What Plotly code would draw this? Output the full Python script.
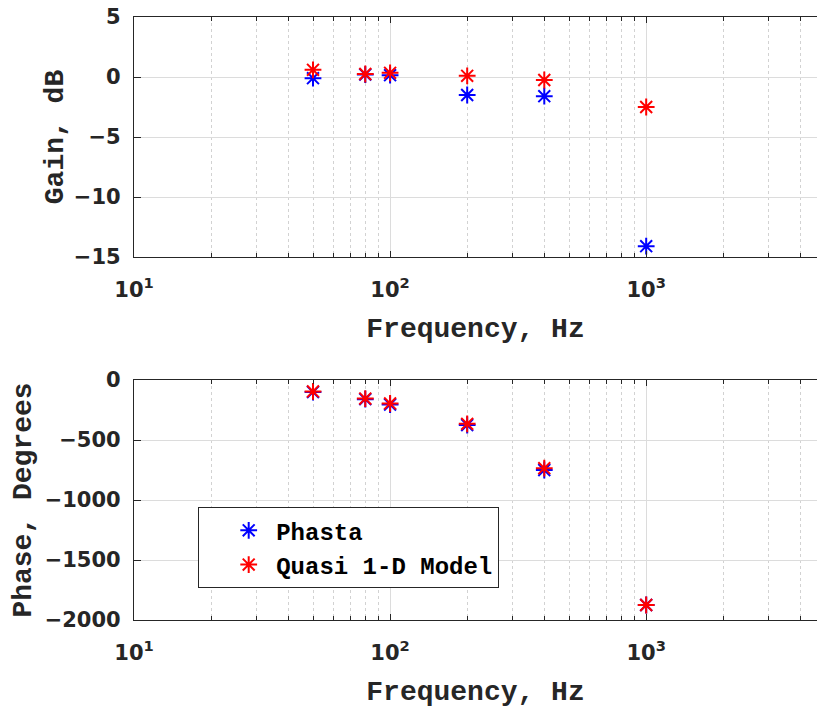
import plotly.graph_objects as go

# Frequency response: measured (Phasta) vs. quasi 1-D model
freq = [50, 80, 100, 200, 400, 1000]
gain_phasta = [-0.1, 0.2, 0.15, -1.5, -1.6, -14.1]
gain_model = [0.6, 0.25, 0.35, 0.1, -0.25, -2.5]
phase_phasta = [-100, -160, -205, -375, -750, -1875]
phase_model = [-95, -155, -195, -365, -735, -1875]

x_major = [10, 100, 1000]
x_major_text = ["10<sup>1</sup>", "10<sup>2</sup>", "10<sup>3</sup>"]
x_minor = [m * d for d in (10, 100, 1000) for m in range(2, 10) if m * d < 5000]

gain_ticks = [5, 0, -5, -10, -15]
phase_ticks = [0, -500, -1000, -1500, -2000]

BLUE = "#0000ff"
RED = "#ff0000"
AX = "#262626"
TITLE_FONT = dict(family="Liberation Mono", size=28, color=AX, weight="bold")
TICK_FONT = dict(family="DejaVu Sans", size=21, color=AX, weight="bold")

fig = go.Figure()

def add_series(x, y, color, name, axis, show):
    fig.add_trace(go.Scatter(
        x=x, y=y, mode="markers", name=name, showlegend=show,
        xaxis="x" if axis == 1 else "x2", yaxis="y" if axis == 1 else "y2",
        marker=dict(symbol="asterisk-open", size=14, color=color,
                    line=dict(color=color, width=2)),
    ))

add_series(freq, gain_phasta, BLUE, "Phasta", 1, False)
add_series(freq, gain_model, RED, "Quasi 1-D Model", 1, False)
add_series(freq, phase_phasta, BLUE, "Phasta", 2, True)
add_series(freq, phase_model, RED, "Quasi 1-D Model", 2, True)

def xaxis(anchor):
    return dict(
        type="log", range=[1, 3.667], anchor=anchor,
        tickvals=x_major, ticktext=x_major_text, tickfont=TICK_FONT,
        ticks="inside", ticklen=6, tickcolor=AX, ticklabelstandoff=14,
        showline=True, linecolor=AX, linewidth=1.2, mirror="allticks",
        showgrid=True, gridcolor="#dcdcdc", gridwidth=1, zeroline=False,
        minor=dict(tickvals=x_minor, ticks="inside", ticklen=4, tickcolor=AX,
                   showgrid=True, gridcolor="#d2d2d2", griddash="dot", gridwidth=1),
        title=dict(text="Frequency, Hz", font=TITLE_FONT, standoff=16),
    )

def yaxis(anchor, rng, ticks, title, standoff):
    return dict(
        range=rng, anchor=anchor, tickvals=ticks, tickfont=TICK_FONT,
        ticks="inside", ticklen=7, tickcolor=AX, ticklabelstandoff=8,
        showline=True, linecolor=AX, linewidth=1.2, mirror=False,
        showgrid=True, gridcolor="#dcdcdc", gridwidth=1, zeroline=False,
        title=dict(text=title, font=TITLE_FONT, standoff=standoff),
    )

fig.update_layout(
    width=817, height=708,
    margin=dict(l=134, r=0, t=17, b=88),
    paper_bgcolor="white", plot_bgcolor="white",
    xaxis=dict(xaxis("y"), domain=[0, 1]),
    yaxis=dict(yaxis("x", [-15, 5], gain_ticks, "Gain, dB", 2), domain=[0.602, 1]),
    xaxis2=dict(xaxis("y2"), domain=[0, 1]),
    yaxis2=dict(yaxis("x2", [-2000, 0], phase_ticks, "Phase, Degrees", 4),
                domain=[0, 0.398]),
    legend=dict(
        x=0.094, y=0.187, xanchor="left", yanchor="top",
        bgcolor="white", bordercolor=AX, borderwidth=1,
        font=dict(family="Liberation Mono", size=24, color="black", weight="bold"),
        itemwidth=45, indentation=22, tracegroupgap=0,
    ),
    showlegend=True,
)

fig.write_html("out.html")
